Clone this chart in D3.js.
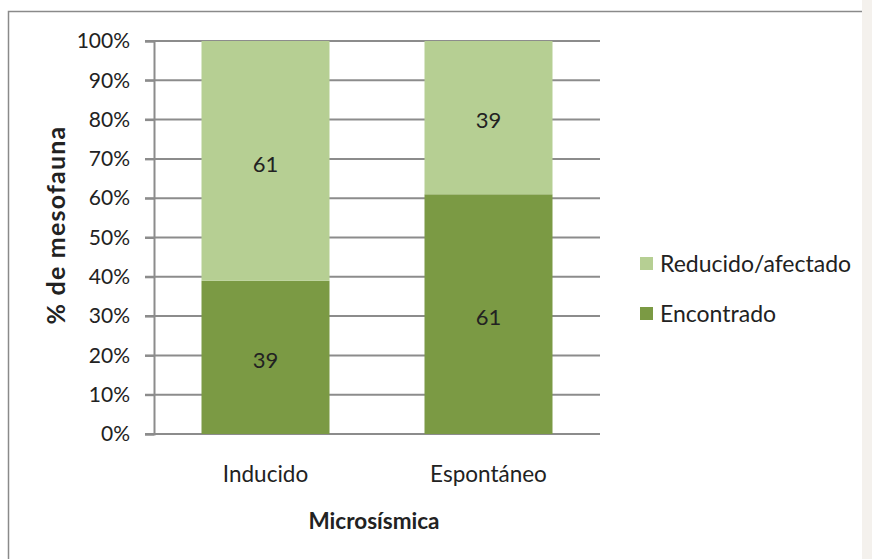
<!DOCTYPE html>
<html>
<head>
<meta charset="utf-8">
<script src="https://cdn.jsdelivr.net/npm/d3@7"></script>
<style>
  body { margin: 0; background: #fff; }
  text { font-family: Lato, "Liberation Sans", sans-serif; fill: #222; }
</style>
</head>
<body>
<script>
var width = 872, height = 559;

// data
var categories = ['Inducido', 'Espontáneo'];
var encontrado = [39, 61];
var reducido = [61, 39];
var seriesNames = ['Reducido/afectado', 'Encontrado'];
var yTicks = [0, 10, 20, 30, 40, 50, 60, 70, 80, 90, 100];

var colors = { 'Encontrado': '#7b9a44', 'Reducido/afectado': '#b6cf93' };

var svg = d3.select('body').append('svg').attr('width', width).attr('height', height);

// right strip + frame
svg.append('rect').attr('x', 862).attr('y', 0).attr('width', 10).attr('height', height).attr('fill', '#f4f1ed');
svg.append('path').attr('d', 'M8.5,' + height + 'V11.5H862').attr('fill', 'none').attr('stroke', '#8a8a8a').attr('stroke-width', 1.5);

var plotL = 154, plotR = 600, plotT = 41, plotB = 434;

var x = d3.scaleBand().domain(categories).range([plotL, plotR]).paddingInner(0.426).paddingOuter(0.213);
var y = d3.scaleLinear().domain([0, 100]).range([plotB, plotT]);

// gridlines
svg.append('g').selectAll('line').data(yTicks).join('line')
  .attr('x1', 145).attr('x2', plotR)
  .attr('y1', function(d) { return y(d); }).attr('y2', function(d) { return y(d); })
  .attr('stroke', '#8c8c8c').attr('stroke-width', 2);

// stacked bars
var rows = categories.map(function(c, i) { return { cat: c, 'Encontrado': encontrado[i], 'Reducido/afectado': reducido[i] }; });
var stack = d3.stack().keys(['Encontrado', 'Reducido/afectado'])(rows);

var layers = svg.append('g').selectAll('g').data(stack).join('g')
  .attr('fill', function(d) { return colors[d.key]; });

layers.selectAll('rect').data(function(d) { return d; }).join('rect')
  .attr('x', function(d) { return x(d.data.cat); })
  .attr('width', x.bandwidth())
  .attr('y', function(d) { return y(d[1]); })
  .attr('height', function(d) { return y(d[0]) - y(d[1]); });

layers.selectAll('text').data(function(d) { return d; }).join('text')
  .attr('x', function(d) { return x(d.data.cat) + x.bandwidth() / 2; })
  .attr('y', function(d) { return y((d[0] + d[1]) / 2) + 3; })
  .attr('dy', '0.35em')
  .attr('text-anchor', 'middle')
  .attr('font-size', 22)
  .attr('fill', '#222')
  .text(function(d) { return d[1] - d[0]; });

// y axis
var yAxis = svg.append('g').attr('transform', 'translate(' + plotL + ',0)')
  .call(d3.axisLeft(y).tickValues(yTicks).tickSize(9).tickPadding(15).tickFormat(function(d) { return d + '%'; }));
yAxis.select('.domain').attr('stroke', '#8c8c8c').attr('stroke-width', 2);
yAxis.selectAll('.tick line').attr('stroke', '#8c8c8c').attr('stroke-width', 2);
yAxis.selectAll('text').attr('font-size', 21).attr('fill', '#222').attr('font-family', 'Lato, sans-serif');

// x labels
svg.append('g').selectAll('text').data(categories).join('text')
  .attr('x', function(d) { return x(d) + x.bandwidth() / 2; })
  .attr('y', 474).attr('dy', '0.35em')
  .attr('text-anchor', 'middle').attr('font-size', 22.5)
  .text(function(d) { return d; });

// axis titles
svg.append('text').attr('x', 374).attr('y', 521).attr('dy', '0.35em')
  .attr('text-anchor', 'middle').attr('font-size', 22.5).attr('font-weight', 'bold')
  .text('Microsísmica');
svg.append('text').attr('transform', 'translate(56,225) rotate(-90)').attr('dy', '0.35em')
  .attr('text-anchor', 'middle').attr('font-size', 25).attr('font-weight', 'bold').attr('letter-spacing', 1.2)
  .text('% de mesofauna');

// legend
var legend = svg.append('g').selectAll('g').data(seriesNames).join('g')
  .attr('transform', function(d, i) { return 'translate(640,' + (264 + i * 50) + ')'; });
legend.append('rect').attr('x', 0).attr('y', -7).attr('width', 13).attr('height', 13)
  .attr('fill', function(d) { return colors[d]; });
legend.append('text').attr('x', 20).attr('dy', '0.35em').attr('font-size', 23)
  .text(function(d) { return d; });
</script>
</body>
</html>
